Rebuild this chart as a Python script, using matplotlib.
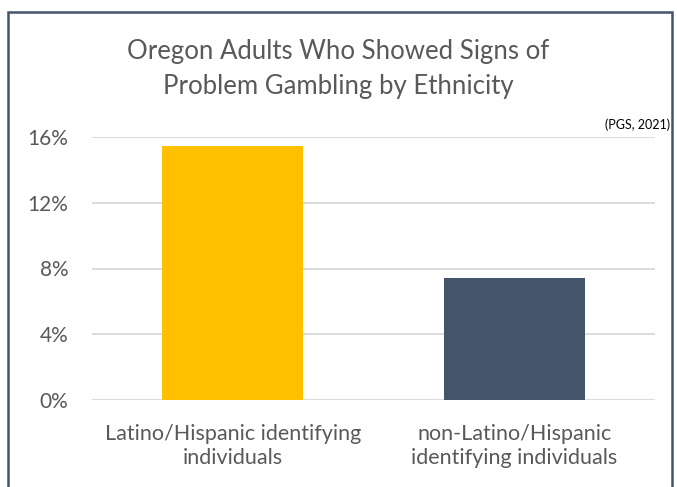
import matplotlib.pyplot as plt
from matplotlib.patches import Rectangle
from matplotlib.ticker import FuncFormatter

categories = ["Latino/Hispanic identifying\nindividuals", "non-Latino/Hispanic\nidentifying individuals"]
values = [15.45, 7.4]
colors = ["#FFC000", "#44546A"]
yticks = [0, 4, 8, 12, 16]

plt.rcParams['font.family'] = ['Lato', 'DejaVu Sans']
text_col = "#595959"

fig = plt.figure(figsize=(6.77, 4.87), dpi=100)
ax = fig.add_axes([92/677, 1-400/487, (655-92)/677, (400-137)/487])

ax.bar(range(len(values)), values, width=0.5, color=colors, zorder=3)
ax.set_xlim(-0.5, 1.5)
ax.set_ylim(0, 16)
ax.set_yticks(yticks)
ax.yaxis.set_major_formatter(FuncFormatter(lambda v, p: "%d%%" % v))
ax.set_xticks(range(len(categories)))
ax.set_xticklabels(categories, fontsize=15.5, color=text_col, linespacing=1.3)
ax.tick_params(axis='y', labelsize=15, labelcolor=text_col, length=0, pad=17)
ax.tick_params(axis='x', length=0, pad=17)
ax.grid(axis='y', color="#D9D9D9", linewidth=1.3, zorder=0)
for s in ax.spines.values():
    s.set_visible(False)

fig.text(0.5, 1-69/487, "Oregon Adults Who Showed Signs of\nProblem Gambling by Ethnicity",
         ha='center', va='center', fontsize=18.5, color=text_col, linespacing=1.5)
fig.text(670/677, 1-125/487, "(PGS, 2021)", ha='right', va='center', fontsize=9, color="black")

# outer chart border (bottom edge is cut off in the original)
fig.patches.append(Rectangle((8/677, -0.05), (672-8)/677, 1.05-12/487, transform=fig.transFigure,
                             fill=False, edgecolor="#44546A", linewidth=1.8))

plt.savefig("out.png", dpi=100)
print("Plot is done.")
